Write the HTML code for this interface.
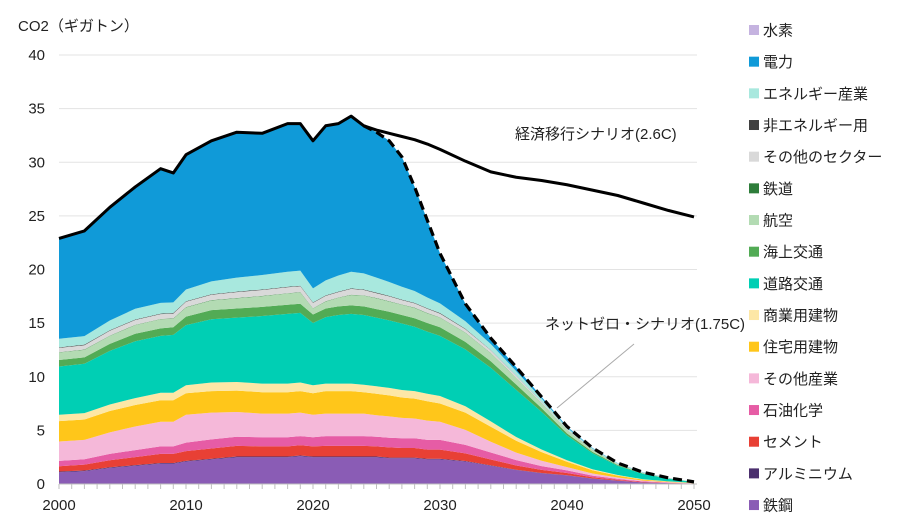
<!DOCTYPE html>
<html><head><meta charset="utf-8">
<style>
body{margin:0;background:#fff;}
svg{display:block;font-family:"Liberation Sans","Noto Sans CJK JP",sans-serif;}
</style></head>
<body>
<svg id="chart" width="905" height="532" viewBox="0 0 905 532">
<text x="18" y="31" font-size="15" fill="#222">CO2（ギガトン）</text>
<g id="grid"></g><g id="areas"></g><g id="lines"></g><g id="axes"></g><g id="legend"></g>
<text x="515" y="139" font-size="15" fill="#222">経済移行シナリオ(2.6C)</text>
<text x="545" y="329" font-size="15" fill="#222">ネットゼロ・シナリオ(1.75C)</text>
<line x1="634" y1="344" x2="557" y2="408" stroke="#aaa" stroke-width="1"/>
</svg>
<script>
const years=[2000,2002,2004,2006,2008,2009,2010,2012,2014,2016,2018,2019,2020,2021,2022,2023,2024,2025,2026,2027,2028,2029,2030,2032,2034,2036,2038,2040,2042,2044,2046,2048,2050];
const steel=[1.1,1.2,1.5,1.7,1.9,1.9,2.1,2.3,2.5,2.5,2.5,2.6,2.5,2.5,2.5,2.5,2.5,2.5,2.4,2.4,2.4,2.3,2.3,2.1,1.7,1.3,1.0,0.8,0.5,0.3,0.15,0.08,0.03];
const aluminium=[0.06,0.06,0.06,0.06,0.06,0.06,0.06,0.06,0.06,0.06,0.06,0.06,0.06,0.06,0.06,0.06,0.06,0.06,0.06,0.06,0.06,0.06,0.06,0.05,0.04,0.03,0.02,0.02,0.01,0.01,0,0,0];
const cement=[0.5,0.55,0.65,0.75,0.85,0.85,0.9,0.95,1.0,0.95,0.95,0.95,0.95,1.0,1.0,1.0,1.0,0.95,0.95,0.9,0.9,0.85,0.85,0.7,0.55,0.4,0.3,0.2,0.12,0.07,0.04,0.02,0.01];
const petrochem=[0.5,0.5,0.6,0.65,0.7,0.7,0.8,0.85,0.85,0.85,0.85,0.85,0.85,0.9,0.9,0.9,0.9,0.9,0.9,0.9,0.9,0.9,0.9,0.8,0.65,0.5,0.35,0.25,0.15,0.1,0.05,0.03,0.01];
const otherIndustry=[1.8,1.8,2.0,2.2,2.3,2.3,2.6,2.5,2.3,2.2,2.2,2.2,2.1,2.1,2.1,2.1,2.1,2.0,2.0,1.9,1.85,1.8,1.7,1.4,1.0,0.7,0.5,0.3,0.2,0.12,0.07,0.04,0.02];
const residential=[1.9,1.9,2.0,2.0,2.0,2.0,2.0,2.0,2.0,2.0,2.0,2.0,2.0,2.1,2.1,2.1,2.0,2.0,1.95,1.9,1.85,1.8,1.7,1.6,1.4,1.1,0.8,0.5,0.3,0.18,0.1,0.05,0.02];
const commercial=[0.6,0.6,0.6,0.65,0.7,0.7,0.75,0.8,0.8,0.8,0.8,0.8,0.75,0.7,0.7,0.7,0.7,0.7,0.7,0.7,0.7,0.7,0.7,0.6,0.5,0.35,0.25,0.15,0.1,0.06,0.03,0.02,0.01];
const road=[4.5,4.6,5.0,5.3,5.3,5.4,5.6,5.9,6.0,6.3,6.5,6.5,5.8,6.2,6.4,6.5,6.5,6.4,6.3,6.2,6.0,5.8,5.6,5.3,5.0,4.4,3.5,2.3,1.5,0.85,0.5,0.25,0.08];
const marine=[0.6,0.6,0.65,0.7,0.7,0.7,0.8,0.85,0.85,0.85,0.85,0.85,0.8,0.8,0.8,0.8,0.8,0.8,0.8,0.8,0.8,0.8,0.8,0.7,0.6,0.5,0.35,0.2,0.12,0.07,0.04,0.02,0.01];
const aviation=[0.7,0.7,0.75,0.8,0.85,0.8,0.85,0.9,0.95,1.0,1.05,1.05,0.55,0.65,0.8,0.95,1.0,1.0,0.95,0.95,0.95,0.9,0.9,0.85,0.75,0.6,0.45,0.3,0.18,0.1,0.06,0.03,0.01];
const rail=[0.03,0.03,0.03,0.03,0.03,0.03,0.03,0.03,0.03,0.03,0.03,0.03,0.03,0.03,0.03,0.03,0.03,0.03,0.03,0.03,0.03,0.03,0.03,0.03,0.03,0.02,0.02,0.01,0.01,0,0,0,0];
const otherSectors=[0.4,0.4,0.45,0.45,0.45,0.45,0.5,0.5,0.55,0.55,0.55,0.55,0.5,0.5,0.5,0.55,0.5,0.45,0.45,0.4,0.4,0.4,0.35,0.3,0.25,0.2,0.12,0.07,0.04,0.02,0.01,0.01,0];
const nonEnergy=[0.05,0.05,0.05,0.05,0.05,0.05,0.05,0.05,0.05,0.05,0.05,0.05,0.05,0.05,0.05,0.05,0.05,0.05,0.05,0.05,0.05,0.05,0.05,0.04,0.03,0.02,0.01,0.01,0.01,0,0,0,0];
const energyIndustry=[0.8,0.8,0.9,1.0,1.0,1.0,1.1,1.2,1.3,1.35,1.4,1.4,1.3,1.4,1.5,1.55,1.5,1.4,1.3,1.2,1.1,1.0,0.9,0.7,0.55,0.4,0.3,0.15,0.08,0.04,0.02,0.01,0];
const electricity=[9.36,9.81,10.56,11.36,12.51,12.06,12.56,13.11,13.56,13.21,13.81,13.71,13.76,14.41,14.16,14.51,13.76,13.56,13.16,12.11,9.71,7.21,4.66,1.63,0.55,0.38,0.15,0.1,0.05,0.03,0.02,0.01,0];
const hydrogen=[0,0,0,0,0,0,0,0,0,0,0,0,0,0,0,0,0,0,0,0,0,0,0,0,0,0,0,0,0,0,0,0,0];
const economicTransition=[22.9,23.6,25.8,27.7,29.4,29.0,30.7,32.0,32.8,32.7,33.6,33.6,32.0,33.4,33.6,34.3,33.4,33.0,32.7,32.4,32.1,31.7,31.2,30.1,29.1,28.6,28.3,27.9,27.4,26.9,26.2,25.5,24.9];
const yTicks=[0,5,10,15,20,25,30,35,40];
const xTicks=[2000,2010,2020,2030,2040,2050];
const netZeroStartYear=2024;

const series=[
 {n:'鉄鋼',d:steel,c:'#8a5cb5',k:'steel'},
 {n:'アルミニウム',d:aluminium,c:'#4b2f6e',k:'aluminium'},
 {n:'セメント',d:cement,c:'#e84035',k:'cement'},
 {n:'石油化学',d:petrochem,c:'#e65ca5',k:'petrochemicals'},
 {n:'その他産業',d:otherIndustry,c:'#f5b8d9',k:'other-industry'},
 {n:'住宅用建物',d:residential,c:'#ffc61a',k:'residential-buildings'},
 {n:'商業用建物',d:commercial,c:'#fde7a6',k:'commercial-buildings'},
 {n:'道路交通',d:road,c:'#00cfb4',k:'road-transport'},
 {n:'海上交通',d:marine,c:'#52ab55',k:'marine-transport'},
 {n:'航空',d:aviation,c:'#b3dbb3',k:'aviation'},
 {n:'鉄道',d:rail,c:'#2e7d3a',k:'rail'},
 {n:'その他のセクター',d:otherSectors,c:'#d9d9d9',k:'other-sectors'},
 {n:'非エネルギー用',d:nonEnergy,c:'#404040',k:'non-energy-use'},
 {n:'エネルギー産業',d:energyIndustry,c:'#a8e8de',k:'energy-industry'},
 {n:'電力',d:electricity,c:'#109ad8',k:'electricity'},
 {n:'水素',d:hydrogen,c:'#c5b3e0',k:'hydrogen'}
];
const X=y=>59+(y-2000)*(635/50);
const Y=v=>484-v*(429/40);
const NS='http://www.w3.org/2000/svg';
function mk(tag,attrs,parent){const e=document.createElementNS(NS,tag);for(const a in attrs)e.setAttribute(a,attrs[a]);parent.appendChild(e);return e;}
const grid=document.getElementById('grid'),areas=document.getElementById('areas'),lines=document.getElementById('lines'),axes=document.getElementById('axes'),legend=document.getElementById('legend');
yTicks.forEach(t=>{
 if(t>0){const g=mk('line',{x1:59,x2:697,y1:Y(t),y2:Y(t),stroke:'#e3e3e3','stroke-width':1},grid);
 
 }
 const l=mk('text',{x:45,y:Y(t)+5,'font-size':15,'text-anchor':'end',fill:'#222'},axes);l.textContent=t;
 
 
});
// stacks
let base=years.map(()=>0);
const tops=[];
series.forEach(s=>{
 const top=base.map((b,i)=>b+s.d[i]);
 let d='M'+years.map((y,i)=>X(y).toFixed(2)+','+Y(top[i]).toFixed(2)).join('L');
 for(let i=years.length-1;i>=0;i--)d+='L'+X(years[i]).toFixed(2)+','+Y(base[i]).toFixed(2);
 const p=mk('path',{d:d+'Z',fill:s.c,stroke:'none'},areas);
 
 
 base=top;
});
const total=base;
// economic line
const ep=mk('path',{d:'M'+years.map((y,i)=>X(y).toFixed(2)+','+Y(economicTransition[i]).toFixed(2)).join('L'),fill:'none',stroke:'#000','stroke-width':3,'stroke-linejoin':'round'},lines);


const idx=years.indexOf(netZeroStartYear);
const nz=years.slice(idx).map((y,j)=>X(y).toFixed(2)+','+Y(total[idx+j]).toFixed(2));
const np=mk('path',{d:'M'+nz.join('L'),fill:'none',stroke:'#000','stroke-width':3.2,'stroke-dasharray':'9,5'},lines);


// axis
const ax=mk('line',{x1:59,x2:697,y1:484,y2:484,stroke:'#bfbfbf','stroke-width':1},axes);


for(let y=2000;y<=2050;y++){
 const t=mk('line',{x1:X(y),x2:X(y),y1:484,y2:489,stroke:'#bfbfbf','stroke-width':1},axes);
 
 
}
xTicks.forEach(y=>{
 const l=mk('text',{x:X(y),y:510,'font-size':15,'text-anchor':'middle',fill:'#222'},axes);l.textContent=y;
 
 
});
// legend (reverse order)
series.slice().reverse().forEach((s,i)=>{
 const cy=30+i*31.67;
 const g=mk('g',{},legend);
 
 
 mk('rect',{x:749,y:cy-5,width:10,height:10,fill:s.c},g);
 const t=mk('text',{x:763,y:cy+5.5,'font-size':15,fill:'#222'},g);t.textContent=s.n;
});
</script>
</body></html>
